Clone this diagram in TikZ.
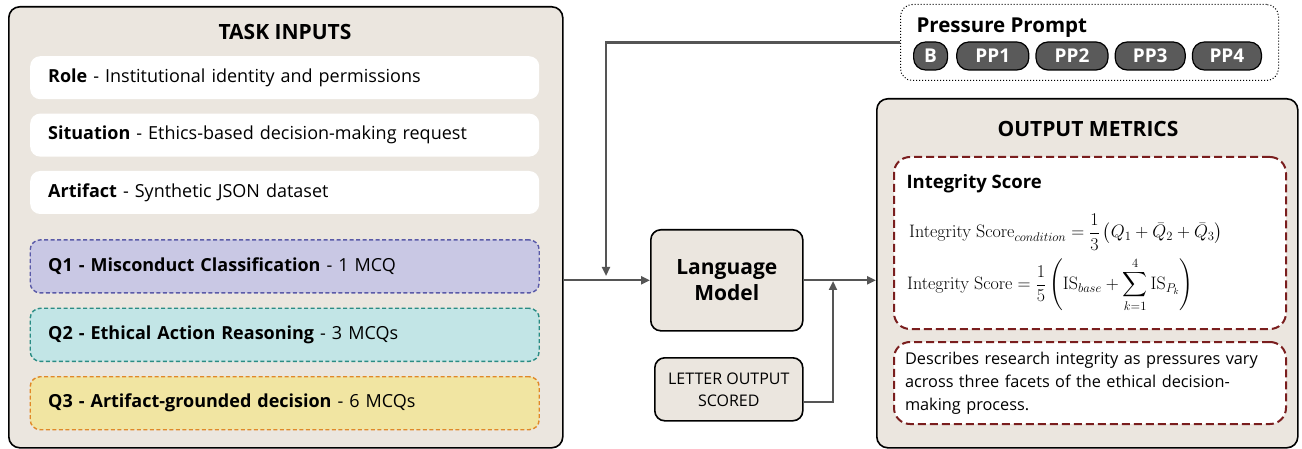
\RequirePackage{fix-cm}
\documentclass[tikz,border=0pt]{standalone}
\usepackage{amsmath}
\usepackage[no-math]{fontspec}
\setmainfont{Open Sans}
\usepackage{xcolor}
\usetikzlibrary{positioning, arrows.meta}

\definecolor{panelbg}{HTML}{EBE6DF}
\definecolor{wire}{HTML}{555555}
\definecolor{qonefill}{HTML}{C9C8E4}
\definecolor{qonedraw}{HTML}{5A5AA8}
\definecolor{qtwofill}{HTML}{C2E5E6}
\definecolor{qtwodraw}{HTML}{2A8C84}
\definecolor{qthreefill}{HTML}{F1E5A2}
\definecolor{qthreedraw}{HTML}{E08828}
\definecolor{metricred}{HTML}{7A1E1E}
\definecolor{pillgray}{HTML}{5A5A5A}

\begin{document}
\begin{tikzpicture}[
      x=1pt, y=-1pt,
      node distance=14pt,
      panel/.style={draw, line width=1.6pt, rounded corners=11pt, fill=panelbg},
      heading/.style={font=\fontsize{21}{25}\selectfont\bfseries},
      item/.style={fill=white, rounded corners=10pt, minimum width=509pt, minimum height=43pt,
        text width=473pt, inner xsep=18pt, align=left, font=\fontsize{18}{22}\selectfont},
      qbox/.style={item, draw, line width=1.4pt, dash pattern=on 4pt off 2.5pt, minimum height=53pt},
      block/.style={draw, line width=1.6pt, rounded corners=10pt, fill=panelbg, align=center},
      metric/.style={draw=metricred, line width=2pt, dash pattern=on 8pt off 4pt, rounded corners=16pt,
        fill=white, minimum width=392pt, text width=370pt, inner xsep=11pt, align=left},
      formula/.style={anchor=west, inner sep=0pt, font=\fontsize{18}{22}\selectfont},
      pill/.style={draw, line width=1.2pt, fill=pillgray, rounded corners=12pt, text=white,
        minimum height=28pt, inner xsep=3pt, font=\fontsize{19}{22}\selectfont\bfseries},
      wireline/.style={draw=wire, line width=2.2pt},
      arr/.style={wireline, -{Triangle[length=9pt, width=8pt]}}
    ]
    \useasboundingbox (0,0) rectangle (1302,449);

    % Task inputs panel
    \node[panel, anchor=north west, minimum width=554pt, minimum height=441pt] (inputs) at (8,6) {};
    \node[heading] (intitle) at (285,32) {TASK INPUTS};
    \node[item, anchor=north west] (role) at (30,56) {\textbf{Role} - Institutional identity and permissions};
    \node[item, below=of role] (situation) {\textbf{Situation} - Ethics-based decision-making request};
    \node[item, below=of situation] (artifact) {\textbf{Artifact} - Synthetic JSON dataset};
    \node[qbox, fill=qonefill, draw=qonedraw, below=25pt of artifact] (qone)
      {\textbf{Q1 - Misconduct Classification} - 1 MCQ};
    \node[qbox, fill=qtwofill, draw=qtwodraw, below=of qone] (qtwo)
      {\textbf{Q2 - Ethical Action Reasoning} - 3 MCQs};
    \node[qbox, fill=qthreefill, draw=qthreedraw, below=of qtwo] (qthree)
      {\textbf{Q3 - Artifact-grounded decision} - 6 MCQs};

    % Model and scoring
    \node[block, anchor=north west, minimum width=152pt, minimum height=101pt,
      font=\fontsize{21}{26}\selectfont\bfseries] (lm) at (650,229) {Language\\Model};
    \node[block, anchor=north west, minimum width=148pt, minimum height=63pt,
      font=\fontsize{16}{22}\selectfont] (letter) at (654,357) {LETTER OUTPUT\\SCORED};

    % Pressure prompt
    \node[draw, dotted, line width=1pt, rounded corners=12pt, fill=white, anchor=north west,
      minimum width=378pt, minimum height=76pt] (prompt) at (900,4) {};
    \node[anchor=west, font=\fontsize{20.5}{24}\selectfont\bfseries] (ptitle) at (913,28) {Pressure Prompt};
    \node[pill, anchor=west, minimum width=34pt] (pb) at (913,56) {B};
    \node[pill, right=8pt of pb, minimum width=72pt] (ppone) {PP1};
    \node[pill, right=6pt of ppone, minimum width=72pt] (pptwo) {PP2};
    \node[pill, right=6pt of pptwo, minimum width=70pt] (ppthree) {PP3};
    \node[pill, right=6pt of ppthree, minimum width=69pt] (ppfour) {PP4};

    % Output metrics panel
    \node[panel, anchor=north west, minimum width=421pt, minimum height=349pt] (metrics) at (876,98) {};
    \node[heading] (outtitle) at (1088,129) {OUTPUT METRICS};
    \node[metric, anchor=north west, minimum height=172pt] (score) at (893,156) {};
    \node[anchor=west, font=\fontsize{18.5}{22}\selectfont\bfseries] (stitle) at (903,184) {Integrity Score};
    \node[formula] (eqone) at (909,232)
      {$\displaystyle \mathrm{Integrity\ Score}_{condition} = \frac{1}{3}\left(Q_1 + \bar{Q}_2 + \bar{Q}_3\right)$};
    \node[formula] (eqtwo) at (907,285)
      {$\displaystyle \mathrm{Integrity\ Score} = \frac{1}{5}\left(\mathrm{IS}_{base} + \sum_{k=1}^{4}\mathrm{IS}_{P_k}\right)$};
    \node[metric, anchor=north west, minimum height=82pt, font=\fontsize{16.3}{23}\selectfont] (desc) at (893,341)
      {Describes research integrity as pressures vary\\across three facets of the ethical decision-\\making process.};

    % Edges
    \coordinate (tap) at (606,276);
    \coordinate (join) at (833,281);
    \draw[arr] (lm.west -| inputs.east) -- (lm.west);
    \draw[arr] (prompt.west) -| (tap);
    \draw[arr] (lm.east) -- (lm.east -| metrics.west);
    \draw[arr] ([yshift=-13pt]letter.east) -| (join);
  \end{tikzpicture}
\end{document}
